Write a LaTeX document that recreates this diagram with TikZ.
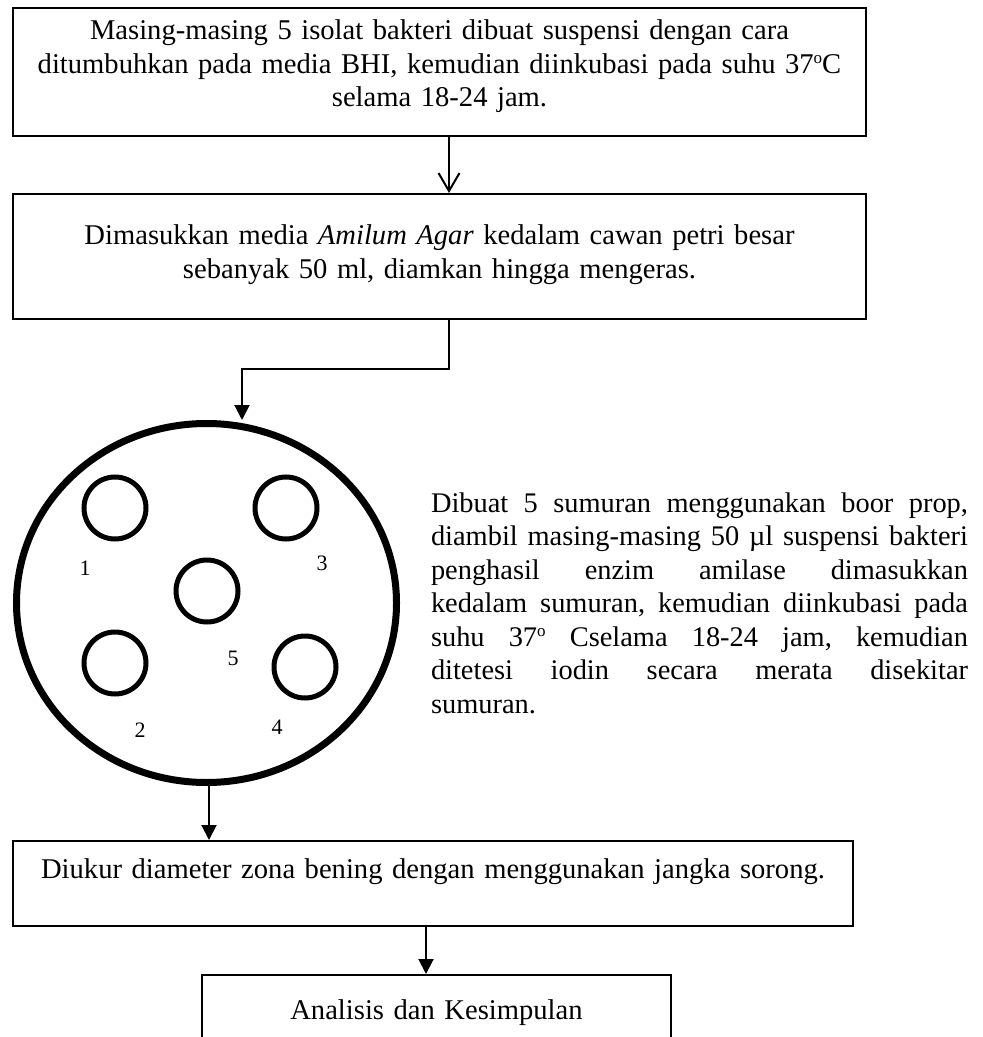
\documentclass[tikz,border=0pt]{standalone}
\usepackage{fontspec}
\setmainfont{Liberation Serif}
\usetikzlibrary{arrows.meta,shapes.geometric}
\newcommand{\derajat}{\raisebox{0.75ex}{\fontsize{8.5}{8.5}\selectfont o}}
\newcommand{\baris}[1]{\leavevmode\hbox to 268.5pt{#1}}

\begin{document}
\begin{tikzpicture}[x=0.5pt, y=-0.5pt, line width=1pt,
	box/.style={draw, inner xsep=0pt, inner ysep=0pt, align=center, anchor=north west, font=\fontsize{14.3}{16.75}\selectfont},
	well/.style={draw, circle, line width=2.5pt, minimum size=31pt, inner sep=0pt},
	num/.style={font=\fontsize{11}{13}\selectfont},
	barb/.style={-{Straight Barb[length=9pt,width=10.5pt]}},
	tri/.style={-{Triangle[length=7.5pt,width=7.5pt]}}]
				
				\useasboundingbox (0,0) rectangle (982,1037);
				\clip (0,0) rectangle (982,1037);
				
				% kotak langkah
				\node[box, text width=426.5pt] (b1) at (12,7) {\rule{0pt}{16pt}Masing-masing 5 isolat bakteri dibuat suspensi dengan cara\\ ditumbuhkan pada media BHI, kemudian diinkubasi pada suhu 37\derajat C\\ selama 18-24 jam.\rule[-14.5pt]{0pt}{14.5pt}};
				\node[box, text width=426.5pt] (b2) at (12,193) {\rule{0pt}{25.5pt}Dimasukkan media \textit{Amilum Agar} kedalam cawan petri besar\\ sebanyak 50 ml, diamkan hingga mengeras.\rule[-20.25pt]{0pt}{20.25pt}};
				\node[box, text width=420pt] (b3) at (12,840) {\rule{0pt}{18.5pt}Diukur diameter zona bening dengan menggunakan jangka sorong.\rule[-24pt]{0pt}{24pt}};
				\node[box, text width=234.5pt] (b4) at (201,974) {\rule{0pt}{22pt}Analisis dan Kesimpulan\rule[-30pt]{0pt}{30pt}};
				
				% cawan petri dan sumuran
				\node[draw, ellipse, line width=3.5pt, minimum width=190pt, minimum height=179.5pt, inner sep=0pt] (dish) at (206.5,603) {};
				\node[well] (w1) at (115,508) {};
				\node[well] (w3) at (286,508) {};
				\node[well] (w5) at (207,591) {};
				\node[well] (w2) at (115,663) {};
				\node[well] (w4) at (305,667) {};
				\node[num] (l1) at (85,568) {1};
				\node[num] (l3) at (322,563) {3};
				\node[num] (l5) at (233,658) {5};
				\node[num] (l2) at (140,730) {2};
				\node[num] (l4) at (277,727) {4};
				
				% keterangan
				\node[anchor=north west, inner sep=0pt, align=left, text width=268.5pt, font=\fontsize{14.2}{16.75}\selectfont] (ket) at (430,491) {\rule{0pt}{10pt}\baris{Dibuat \hfill 5 \hfill sumuran \hfill menggunakan \hfill boor \hfill prop,}\\
					\baris{diambil \hfill masing-masing \hfill 50 \hfill µl \hfill suspensi \hfill bakteri}\\
					\baris{penghasil \hfill enzim \hfill amilase \hfill dimasukkan}\\
					\baris{kedalam \hfill sumuran, \hfill kemudian \hfill diinkubasi \hfill pada}\\
					\baris{suhu \hfill 37\derajat\ \hfill Cselama \hfill 18-24 \hfill jam, \hfill kemudian}\\
					\baris{ditetesi \hfill iodin \hfill secara \hfill merata \hfill disekitar}\\
					sumuran.};
				
				% panah
				\coordinate (t0) at (449,150);
				\coordinate (t1) at (449,369);
				\coordinate (t2) at (242,369);
				\coordinate (t3) at (209,800);
				\coordinate (t4) at (426,950);
				\draw[barb] (b1.south -| t0) -- (b2.north -| t0);
				\draw[tri] (b2.south -| t1) -- (t1) -- (t2) -- (dish.north -| t2);
				\draw[tri] (dish.south -| t3) -- (b3.north -| t3);
				\draw[tri] (b3.south -| t4) -- (b4.north -| t4);
			\end{tikzpicture}
\end{document}
